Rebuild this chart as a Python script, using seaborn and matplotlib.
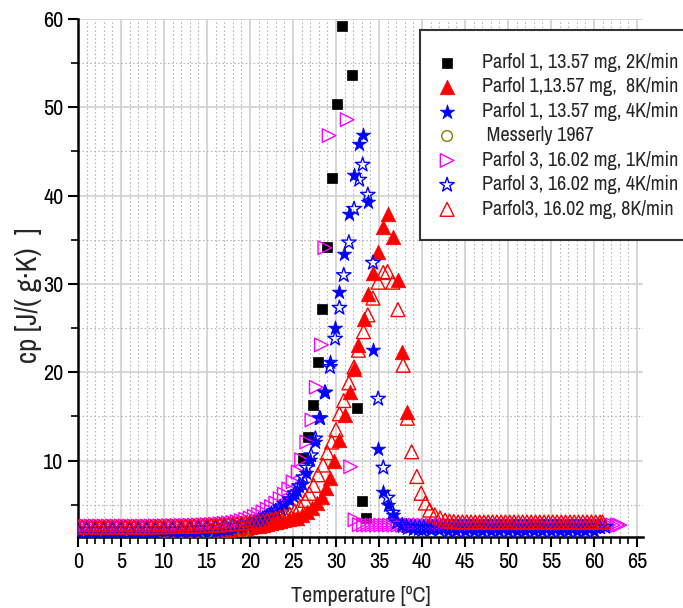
import matplotlib
matplotlib.use("Agg")
import matplotlib.pyplot as plt
from matplotlib.patches import Rectangle
from matplotlib.ticker import MultipleLocator
import seaborn as sns

sns.set_style("ticks")
plt.rcParams['font.family'] = ['Archivo Narrow', 'Liberation Sans', 'DejaVu Sans']

# Parfol 1, 13.57 mg, 2K/min
t_p1_2k = [26.2, 26.7, 27.3, 27.9, 28.4, 28.95, 29.5, 30.1, 30.7, 31.9, 32.4, 33.0, 33.5]
cp_p1_2k = [10.3, 12.7, 16.3, 21.2, 27.2, 34.2, 42.0, 50.4, 59.2, 53.7, 16.0, 5.4, 3.5]

# Parfol 1, 13.57 mg, 8K/min
t_p1_8k = [10.0, 10.5, 11.0, 11.5, 12.0, 12.5, 13.0, 13.5, 14.0, 14.5, 15.0, 15.5, 16.0, 16.5,
           17.0, 17.5, 18.0, 18.5, 19.0, 19.5, 20.0, 20.5, 21.0, 21.5, 22.0, 22.5, 23.0, 23.5,
           24.0, 24.5, 25.0, 25.5, 26.0, 26.6, 27.2, 27.8, 28.4, 28.8, 29.3, 29.8, 30.4, 31.0,
           31.6, 32.1, 32.6, 33.2, 33.7, 34.3, 34.9, 35.5, 36.1, 36.6, 37.2, 37.7, 38.3]
cp_p1_8k = [1.75, 1.76, 1.78, 1.80, 1.82, 1.84, 1.86, 1.88, 1.90, 1.92, 1.95, 1.98, 2.00, 2.05,
            2.10, 2.15, 2.20, 2.25, 2.30, 2.38, 2.45, 2.55, 2.65, 2.75, 2.85, 2.95, 3.05, 3.15,
            3.25, 3.35, 3.45, 3.50, 3.85, 4.2, 4.6, 5.2, 5.9, 6.9, 8.0, 9.9, 12.3, 15.2,
            17.8, 20.4, 23.1, 26.0, 28.9, 31.2, 33.6, 36.5, 37.9, 35.3, 30.5, 22.3, 15.5]

# Parfol 1, 13.57 mg, 4K/min
t_p1_4k = [0, 1, 2, 3, 4, 5, 6, 7, 8, 9, 10, 11, 12, 13, 14.0, 14.5, 15.0, 15.5, 16.0, 16.5,
           17.0, 17.5, 18.0, 18.5, 19.0, 19.5, 20.0, 20.5, 21.0, 21.5, 22.0, 22.5, 23.0, 23.5,
           24.0, 24.5, 25.0, 25.5, 26.0, 26.5, 27.0, 27.6, 28.1, 28.7, 29.3, 29.9, 30.4, 30.9,
           31.5, 32.1, 32.7, 33.1, 33.7, 34.3, 34.9, 35.5, 36.0, 36.6, 37.1, 37.7, 38.3, 38.9,
           39.5, 40, 41, 42, 43, 44, 45, 46, 47, 48, 49, 50, 51, 52, 53, 54, 55, 56, 57, 58, 59, 60]
cp_p1_4k = [1.85, 1.85, 1.85, 1.85, 1.85, 1.85, 1.85, 1.85, 1.85, 1.85, 1.86, 1.86, 1.87, 1.88,
            1.90, 1.92, 1.95, 2.00, 2.05, 2.10, 2.20, 2.30, 2.40, 2.50, 2.60, 2.75, 2.90, 3.05,
            3.20, 3.40, 3.60, 3.90, 4.20, 4.60, 5.00, 5.50, 6.00, 6.60, 7.40, 8.60, 10.1, 12.1,
            14.8, 17.8, 21.2, 25.0, 29.1, 33.4, 37.9, 42.3, 45.9, 46.9, 39.3, 22.5, 11.3, 6.5,
            5.0, 3.8, 3.0, 2.6, 2.4, 2.3, 2.2, 2.15, 2.1, 2.1, 2.05, 2.05, 2.0, 2.0, 2.0, 2.0,
            2.0, 2.0, 2.0, 2.0, 2.0, 2.0, 2.0, 2.0, 2.0, 2.0, 2.0, 2.0]

# Messerly 1967
t_mess = [10.0, 15.0, 19.2]
cp_mess = [1.80, 1.85, 1.90]

# Parfol 3, 16.02 mg, 1K/min
t_p3_1k = [0.0, 0.5, 1.0, 1.5, 2.0, 2.5, 3.0, 3.5, 4.0, 4.5, 5.0, 5.5, 6.0, 6.5, 7.0, 7.5,
           8.0, 8.5, 9.0, 9.5, 10.0, 10.5, 11.0, 11.5, 12.0, 12.5, 13.0, 13.5, 14.0, 14.5,
           15.0, 15.5, 16.0, 16.5, 17.0, 17.5, 18.0, 18.5, 19.0, 19.5, 20.0, 20.5, 21.0, 21.5,
           22.0, 22.5, 23.0, 23.5, 24.0, 24.5, 25.0, 25.6, 26.0, 26.6, 27.2, 27.7, 28.3, 28.7,
           29.2, 31.3, 31.7, 32.2, 32.7, 33.2, 33.7, 34.2, 34.7, 35.2, 35.7, 36.2, 36.7, 37.2,
           37.7, 38.2, 38.7, 39.2, 39.7, 40.2, 40.7, 41.2, 41.7, 42.2, 42.7, 43.2, 43.7, 44.2,
           44.7, 45.2, 45.7, 46.2, 46.7, 47.2, 47.7, 48.2, 48.7, 49.2, 49.7, 50.2, 50.7, 51.2,
           51.7, 52.2, 52.7, 53.2, 53.7, 54.2, 54.7, 55.2, 55.7, 56.2, 56.7, 57.2, 57.7, 58.2,
           58.7, 59.2, 59.7, 60.2, 60.7, 61.2, 61.7, 62.2, 62.7, 63.0]
cp_p3_1k = [2.60, 2.60, 2.60, 2.60, 2.60, 2.60, 2.60, 2.60, 2.60, 2.60, 2.60, 2.60, 2.60, 2.60,
            2.60, 2.60, 2.60, 2.60, 2.62, 2.62, 2.63, 2.64, 2.65, 2.66, 2.67, 2.68, 2.69, 2.70,
            2.71, 2.73, 2.75, 2.77, 2.80, 2.85, 2.90, 2.95, 3.00, 3.10, 3.20, 3.35, 3.50, 3.70,
            3.90, 4.20, 4.50, 4.80, 5.20, 5.70, 6.20, 6.80, 7.60, 8.70, 10.1, 12.1, 14.6, 18.3,
            23.1, 34.1, 46.8, 48.6, 9.3, 3.3, 2.75, 2.70, 2.70, 2.70, 2.70, 2.70, 2.70, 2.70,
            2.70, 2.70, 2.70, 2.70, 2.70, 2.70, 2.70, 2.70, 2.70, 2.70, 2.70, 2.70, 2.70, 2.70,
            2.70, 2.70, 2.70, 2.70, 2.70, 2.70, 2.70, 2.70, 2.70, 2.70, 2.70, 2.70, 2.70, 2.70,
            2.70, 2.70, 2.70, 2.70, 2.70, 2.70, 2.70, 2.70, 2.70, 2.70, 2.70, 2.70, 2.70, 2.70,
            2.70, 2.70, 2.70, 2.70, 2.70, 2.70, 2.70, 2.70, 2.70, 2.70, 2.70, 2.70]

# Parfol 3, 16.02 mg, 4K/min
t_p3_4k = [0, 1, 2, 3, 4, 5, 6, 7, 8, 9, 10, 11, 12, 13, 14, 15, 16, 17, 18, 19, 20.0, 20.5,
           21.0, 21.5, 22.0, 22.5, 23.0, 23.5, 24.0, 24.6, 25.2, 25.7, 26.2, 26.6, 27.1, 27.6,
           28.1, 28.7, 29.3, 29.9, 30.4, 30.9, 31.5, 32.1, 32.7, 33.1, 33.7, 34.3, 34.9, 35.5,
           36.0, 36.6, 37.1, 37.7, 38.2, 38.7, 39.2, 39.7, 40.2, 40.7, 41.2, 41.7, 42.2, 42.7,
           43.2, 43.7, 44.2, 44.7, 45.2, 45.7, 46.2, 46.7, 47.2, 47.7, 48.2, 48.7, 49.2, 49.7,
           50.2, 50.7, 51.2, 51.7, 52.2, 52.7, 53.2, 53.7, 54.2, 54.7, 55.2, 55.7, 56.2, 56.7,
           57.2, 57.7, 58.2, 58.7, 59.2, 59.7, 60.2, 60.7, 61.3]
cp_p3_4k = [2.2, 2.2, 2.2, 2.2, 2.2, 2.2, 2.2, 2.2, 2.2, 2.2, 2.2, 2.2, 2.25, 2.3, 2.35, 2.4,
            2.5, 2.6, 2.7, 2.8, 2.90, 3.05, 3.25, 3.45, 3.70, 4.00, 4.30, 4.70, 5.10, 5.60,
            6.30, 7.10, 8.10, 9.20, 10.6, 12.5, 14.8, 17.7, 20.6, 23.8, 27.3, 31.0, 34.7, 38.5,
            41.8, 43.5, 40.1, 32.4, 17.0, 9.2, 5.8, 4.1, 3.0, 2.7, 2.55, 2.5, 2.45, 2.45,
            2.45, 2.45, 2.45, 2.45, 2.45, 2.45, 2.45, 2.45, 2.45, 2.45, 2.45, 2.45, 2.45, 2.45,
            2.45, 2.45, 2.45, 2.45, 2.45, 2.45, 2.45, 2.45, 2.45, 2.45, 2.45, 2.45, 2.45, 2.45,
            2.45, 2.45, 2.45, 2.45, 2.45, 2.45, 2.45, 2.45, 2.45, 2.45, 2.45, 2.45, 2.45, 2.45,
            2.5]

# Parfol3, 16.02 mg, 8K/min
t_p3_8k = [0.0, 0.5, 1.0, 1.5, 2.0, 2.5, 3.0, 3.5, 4.0, 4.5, 5.0, 5.5, 6.0, 6.5, 7.0, 7.5,
           8.0, 8.5, 9.0, 9.5, 10.0, 10.5, 11.0, 11.5, 12.0, 12.5, 13.0, 13.5, 14.0, 14.5,
           15.0, 15.5, 16.0, 16.5, 17.0, 17.5, 18.0, 18.5, 19.0, 19.5, 20.0, 20.5, 21.0, 21.5,
           22.0, 22.5, 23.0, 23.5, 24.0, 24.6, 25.2, 25.8, 26.4, 26.9, 27.4, 27.9, 28.5, 29.0,
           29.5, 30.0, 30.4, 30.9, 31.5, 32.1, 32.6, 33.2, 33.7, 34.3, 34.9, 35.5, 36.0, 36.6,
           37.2, 37.8, 38.3, 38.8, 39.4, 39.9, 40.4, 40.9, 41.5, 42.1, 42.7, 43.2, 43.7, 44.2,
           44.7, 45.2, 45.7, 46.2, 46.7, 47.2, 47.7, 48.2, 48.7, 49.2, 49.7, 50.2, 50.7, 51.2,
           51.7, 52.2, 52.7, 53.2, 53.7, 54.2, 54.7, 55.2, 55.7, 56.2, 56.7, 57.2, 57.7, 58.2,
           58.7, 59.2, 59.7, 60.2, 60.7, 61.0]
cp_p3_8k = [2.50, 2.50, 2.50, 2.50, 2.50, 2.50, 2.50, 2.50, 2.50, 2.50, 2.50, 2.50, 2.50, 2.50,
            2.50, 2.50, 2.50, 2.50, 2.52, 2.52, 2.53, 2.54, 2.55, 2.56, 2.57, 2.58, 2.59, 2.60,
            2.62, 2.64, 2.66, 2.68, 2.70, 2.73, 2.76, 2.80, 2.84, 2.88, 2.92, 2.96, 3.00, 3.05,
            3.10, 3.18, 3.25, 3.35, 3.50, 3.65, 3.80, 3.95, 4.30, 4.80, 5.50, 6.30, 7.20, 8.40,
            9.50, 10.9, 12.1, 13.5, 15.3, 16.8, 18.8, 20.6, 22.5, 24.6, 26.5, 28.4, 30.2, 31.3,
            31.4, 30.2, 27.1, 20.8, 14.8, 11.0, 8.2, 6.3, 5.2, 4.4, 3.85, 3.5, 3.25, 3.15,
            3.10, 3.05, 3.05, 3.05, 3.05, 3.05, 3.05, 3.05, 3.05, 3.05, 3.05, 3.05, 3.05, 3.05,
            3.05, 3.05, 3.05, 3.05, 3.05, 3.05, 3.05, 3.05, 3.05, 3.05, 3.05, 3.05, 3.05, 3.05,
            3.05, 3.05, 3.05, 3.05, 3.05, 3.05, 3.05, 3.05]

series = [
    ("Parfol 1, 13.57 mg, 2K/min", t_p1_2k, cp_p1_2k, "s", "black", True, 55),
    ("Parfol 1,13.57 mg,  8K/min", t_p1_8k, cp_p1_8k, "^", "red", True, 110),
    ("Parfol 1, 13.57 mg, 4K/min", t_p1_4k, cp_p1_4k, "*", "blue", True, 120),
    (" Messerly 1967", t_mess, cp_mess, "o", "#808000", False, 60),
    ("Parfol 3, 16.02 mg, 1K/min", t_p3_1k, cp_p3_1k, ">", "magenta", False, 95),
    ("Parfol 3, 16.02 mg, 4K/min", t_p3_4k, cp_p3_4k, "*", "blue", False, 120),
    ("Parfol3, 16.02 mg, 8K/min", t_p3_8k, cp_p3_8k, "^", "red", False, 100),
]

W, H = 683, 608
fig = plt.figure(figsize=(W / 100, H / 100), dpi=100)
ax = fig.add_axes([78 / W, 1 - 537 / H, 565 / W, 518 / H])

for label, t, cp, mk, col, filled, size in series:
    if filled:
        sns.scatterplot(x=t, y=cp, marker=mk, color=col, edgecolor=col, linewidth=0.5,
                        s=size, ax=ax, label=label, zorder=3)
    else:
        sns.scatterplot(x=t, y=cp, marker=mk, facecolor="none", edgecolor=col, linewidth=1.0,
                        s=size, ax=ax, label=label, zorder=3)

handles, labels = ax.get_legend_handles_labels()
if ax.get_legend() is not None:
    ax.get_legend().remove()

ax.set_xlim(0, 65.7)
ax.set_ylim(1.35, 60)
ax.xaxis.set_major_locator(MultipleLocator(5))
ax.xaxis.set_minor_locator(MultipleLocator(1))
ax.yaxis.set_minor_locator(MultipleLocator(5))
ax.set_yticks([10, 20, 30, 40, 50, 60])

ax.grid(which="major", color="#d0d0d0", linewidth=1.2, linestyle="-")
ax.grid(which="minor", color="#b8b8b8", linewidth=0.8, linestyle=(0, (1.5, 2)))
ax.set_axisbelow(True)

for side in ["top", "right"]:
    ax.spines[side].set_visible(False)
for side in ["left", "bottom"]:
    ax.spines[side].set_color("black")
    ax.spines[side].set_linewidth(1.8)

ax.tick_params(which="major", direction="out", length=7, width=1.5, colors="black", labelsize=16)
ax.tick_params(which="minor", direction="out", length=5, width=1.2, colors="black")

ax.set_xlabel("Temperature [ºC]", fontsize=16, labelpad=10)
ax.set_ylabel("cp [J/( g·K)  ]", fontsize=21)
ax.yaxis.set_label_coords(-0.064, 0.467)

# legend box, cut by the right edge as in the original
box = Rectangle((420 / W, 1 - 240 / H), 300 / W, 210 / H, transform=fig.transFigure,
                facecolor="white", edgecolor="#333333", linewidth=1.5, zorder=5)
fig.patches.append(box)

leg = fig.legend(handles, labels, loc="upper left", bbox_to_anchor=(437 / W, 1 - 53 / H),
                 fontsize=14.5, frameon=False, borderpad=0, borderaxespad=0,
                 labelspacing=0.27, handlelength=1.0, handletextpad=1.24)
leg.set_zorder(6)

fig.savefig("out.png", dpi=100)
